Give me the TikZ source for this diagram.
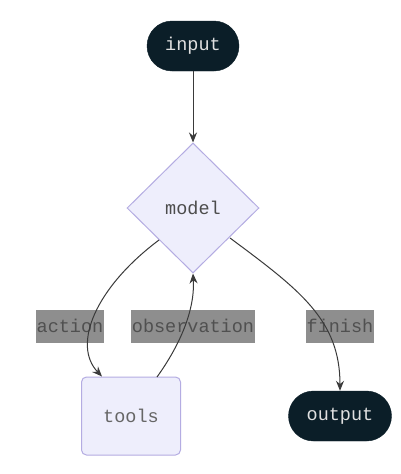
\documentclass[tikz,border=0pt]{standalone}
\usepackage{fontspec}
\setmonofont{Liberation Mono}
\usetikzlibrary{shapes.geometric,arrows.meta}
\definecolor{darkfill}{HTML}{0B1E28}
\definecolor{lightfill}{HTML}{EEEEFC}
\definecolor{lightstroke}{HTML}{B4ACE2}
\definecolor{labelfill}{HTML}{8E8E8E}
\definecolor{labeltext}{HTML}{505050}
\definecolor{edgecol}{HTML}{3A3A3A}
\tikzset{
  txt/.style={font=\ttfamily\fontsize{18.5}{22}\selectfont},
  stadium/.style={txt, draw=darkfill, fill=darkfill, text=white!88!black, minimum width=#1, minimum height=50pt, rounded corners=25pt, inner sep=0pt},
  decision/.style={txt, diamond, draw=lightstroke, line width=1pt, fill=lightfill, text=black!70, minimum width=132pt, minimum height=130pt, inner sep=0pt},
  toolbox/.style={txt, draw=lightstroke, line width=1pt, fill=lightfill, text=black!60, minimum width=99pt, minimum height=78pt, rounded corners=5pt, inner sep=0pt},
  elabel/.style={txt, fill=labelfill, text=labeltext, minimum height=33pt, inner sep=0pt, inner xsep=1pt},
  conn/.style={draw=edgecol, line width=1pt, -{Stealth[length=10pt,width=8pt]}}
}
\begin{document}
\begin{tikzpicture}[x=1pt,y=-1pt]
\useasboundingbox (0,0) rectangle (400,474);
\fill[white] (0,0) rectangle (400,474);
\node[stadium=92pt] (input) at (193,46) {input};
\node[decision] (model) at (193,208) {model};
\node[toolbox] (tools) at (131,416) {tools};
\node[stadium=103pt] (output) at (340,416) {output};
\node[elabel] (lact) at (70,326) {action};
\node[elabel] (lobs) at (193,326) {observation};
\node[elabel] (lfin) at (340,326) {finish};
\coordinate (mL) at (159,240);
\coordinate (mR) at (230,238);
\coordinate (tT) at (157,377);
\draw[conn] (input) -- (model.north);
\draw[conn] (mL) .. controls (95,288) and (72,345) .. (tools.north -| 102,0);
\draw[conn] (tT) .. controls (180,345) and (195,310) .. (model.south);
\draw[conn] (mR) .. controls (300,290) and (340,320) .. (output.north);
\end{tikzpicture}
\end{document}
